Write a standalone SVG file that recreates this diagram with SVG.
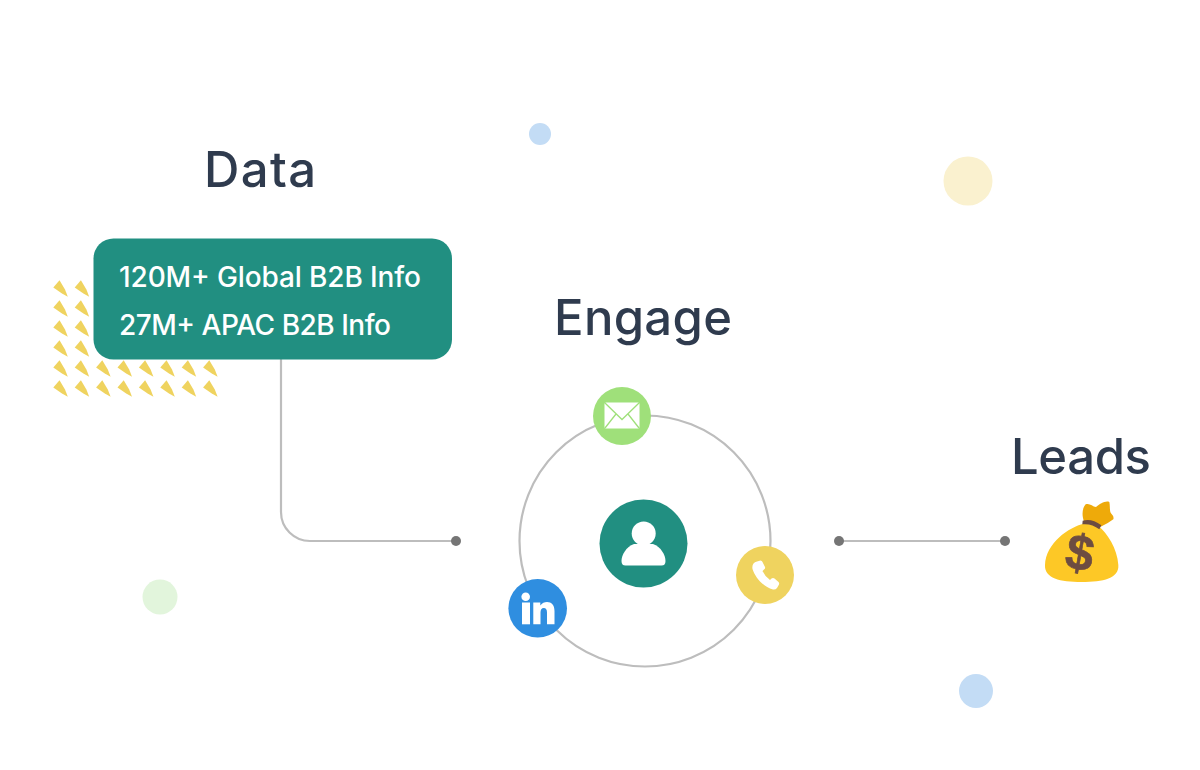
<svg xmlns="http://www.w3.org/2000/svg" width="1200" height="770" viewBox="0 0 1200 770">
<style>
.h{font-family:Inter,"Noto Sans",sans-serif;font-size:49px;font-weight:500;fill:#2f3b4e}
.b{font-family:Inter,"Noto Sans",sans-serif;font-size:28px;font-weight:500;fill:#fff}
.ln{fill:none;stroke:#bdbdbd;stroke-width:2.2}
.dot{fill:#757575}
.w{fill:#fff}
</style>
<defs>
<polygon id="t" points="59.500,280.300 53.300,287.500 62,293.500 67.800,296.800 65,289.500" fill="#efd35f"/>
</defs>
<rect width="1200" height="770" fill="#fff"/>
<g id="decor">
<circle cx="540" cy="134" r="11" fill="#c3dcf5"/>
<circle cx="968" cy="181" r="24.500" fill="#faf1cf"/>
<circle cx="160" cy="597" r="17.500" fill="#e2f5dc"/>
<circle cx="976" cy="691" r="17" fill="#c3dcf5"/>
</g>
<g id="dots">
<use href="#t"/><use href="#t" x="21.400"/>
<use href="#t" y="20"/><use href="#t" x="21.400" y="20"/>
<use href="#t" y="40"/><use href="#t" x="21.400" y="40"/>
<use href="#t" y="60"/><use href="#t" x="21.400" y="60"/>
<use href="#t" y="80"/><use href="#t" x="21.400" y="80"/><use href="#t" x="42.800" y="80"/><use href="#t" x="64.200" y="80"/><use href="#t" x="85.600" y="80"/><use href="#t" x="107" y="80"/><use href="#t" x="128.400" y="80"/><use href="#t" x="149.800" y="80"/>
<use href="#t" y="100"/><use href="#t" x="21.400" y="100"/><use href="#t" x="42.800" y="100"/><use href="#t" x="64.200" y="100"/><use href="#t" x="85.600" y="100"/><use href="#t" x="107" y="100"/><use href="#t" x="128.400" y="100"/><use href="#t" x="149.800" y="100"/>
</g>
<g id="connectors">
<path class="ln" d="M281 359V512A29 29 0 0 0 310 541H456"/>
<circle class="dot" cx="456" cy="541" r="5"/>
<path class="ln" d="M839 541H1005"/>
<circle class="dot" cx="839" cy="541" r="5"/>
<circle class="dot" cx="1005" cy="541" r="5"/>
<circle class="ln" cx="645" cy="541" r="125.500"/>
</g>
<g id="data">
<text class="h" x="204" y="187" textLength="112">Data</text>
<rect x="93.500" y="238.500" width="358.500" height="121" rx="20" fill="#218f81"/>
<text class="b" x="119" y="286.500" textLength="302">120M+ Global B2B Info</text>
<text class="b" x="119" y="334.500" textLength="272">27M+ APAC B2B Info</text>
</g>
<g id="engage">
<text class="h" x="554" y="335" textLength="178">Engage</text>
</g>
<g id="person">
<circle cx="643.500" cy="543.500" r="44" fill="#218f81"/>
<circle class="w" cx="643.700" cy="533.500" r="12"/>
<path class="w" d="M634 544C626 547 621.500 555 621.500 561Q621.500 565.500 625.500 565.500H661.500Q665.500 565.500 665.500 561C665.500 555 661 547 653 544Z"/>
</g>
<g id="email">
<circle cx="622" cy="416" r="29" fill="#9fe07a"/>
<rect class="w" x="604.500" y="402.500" width="35" height="26" rx="1.500"/>
<path d="M605 403L622 419.500L639 403M605 428L616 414M639 428L628 414" fill="none" stroke="#9fe07a" stroke-width="1.300"/>
</g>
<g id="phone">
<circle cx="765" cy="575" r="29" fill="#efd35f"/>
<path class="w" d="M757 561.500L760.500 560.500Q762 560.500 762.500 562L765 567Q765.500 568.500 764 569.500L762.500 571Q765 576.500 770 580L771.500 578.500Q773 577.500 774.500 578.500L778.500 582Q779.500 583 779 584.500L777 588Q775.500 590 773 589.500C763 587 755 577 752.500 569Q751.500 563 757 561.500Z"/>
</g>
<g id="linkedin">
<circle cx="537.700" cy="608.300" r="29.300" fill="#2f8ee0"/>
<circle class="w" cx="525.700" cy="596.700" r="4.300"/>
<rect class="w" x="522" y="602.500" width="8" height="21.800"/>
<path class="w" d="M533.300 602.500H540.300V605.500C542 603 544.500 602 547 602C551.500 602 554.500 605 554.500 611V624.300H547V612.500C547 609.500 546 608 543.800 608C541.500 608 540.500 609.800 540.500 612.500V624.300H533.300Z"/>
</g>
<g id="leads">
<text class="h" x="1011" y="474" textLength="140">Leads</text>
<g transform="translate(1030 490) scale(.3333)">
<path d="M163 96C154 76 157 54 167 43C178 38 187 49 198 51C210 42 226 31 238 36C241 50 238 62 243 70Q253 80 250 88Q232 102 212 110Z" fill="#eeaa0a"/>
<path d="M165 100C115 112 48 160 45 225C43 265 90 276 155 276C220 276 268 265 265 225C262 175 232 130 205 108Z" fill="#fdc826"/>
<path d="M158 92Q185 84 214 106L208 118Q185 100 157 103Z" fill="#6d4c41"/>
<text x="150" y="240" font-family="Liberation Sans, sans-serif" font-size="150" font-weight="700" fill="#6d4c41" stroke="#6d4c41" stroke-width="2" text-anchor="middle" transform="rotate(10 150 188)">$</text>
</g>
</g>
</svg>
